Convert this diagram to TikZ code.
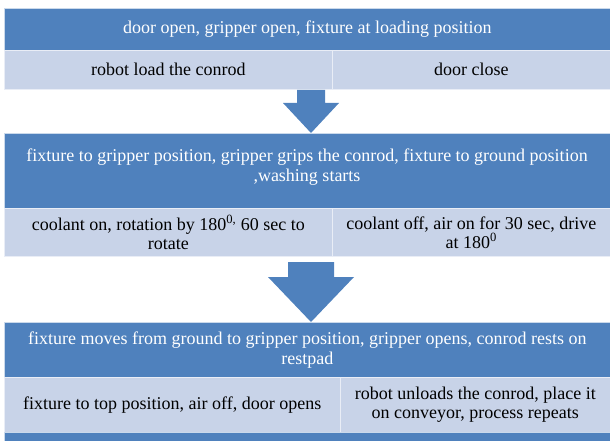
\documentclass[tikz,border=0pt]{standalone}
\usepackage{fontspec}
\setmainfont{Liberation Serif}
\usepackage{xcolor}
\definecolor{headblue}{RGB}{79,129,189}
\definecolor{rowblue}{RGB}{200,211,232}

\begin{document}
\begin{tikzpicture}[x=1pt, y=-1pt,
	head/.style={rectangle, fill=headblue, draw=white!70!headblue, line width=0.6pt, text=white, align=center, anchor=north west, inner sep=0pt, font=\fontsize{18}{20}\selectfont},
	cell/.style={rectangle, fill=rowblue, draw=white!60!rowblue, line width=0.6pt, text=black, align=center, anchor=north west, inner sep=0pt, font=\fontsize{18}{19}\selectfont},
	blockarrow/.style={fill=headblue}]
	\useasboundingbox (0,0) rectangle (610,441);

	% first step
	\node[head, minimum width=606pt, minimum height=42pt] (H1) at (4, 8) {door open, gripper open, fixture at loading position};
	\node[cell, minimum width=328pt, minimum height=39pt] (A1) at (4, 50) {robot load the conrod};
	\node[cell, minimum width=278pt, minimum height=39pt] (B1) at (332, 50) {door close};

	% arrow to second step
	\coordinate (T1) at (311, 133);
	\fill[blockarrow] (297, 90) -- (325, 90) -- (325, 103) -- (339, 103) -- (T1) -- (283, 103) -- (297, 103) -- cycle;

	% second step
	\node[head, minimum width=606pt, minimum height=75pt] (H2) at (4, 133) {};
	\node[text=white, font=\fontsize{18}{20}\selectfont, align=center] (H2text) at (307, 167) {fixture to gripper position, gripper grips the conrod, fixture to ground position\\,washing starts};
	\node[cell, minimum width=328pt, minimum height=48pt] (A2) at (4, 208) {coolant on, rotation by 180\textsuperscript{0,} 60 sec to\\rotate};
	\node[cell, minimum width=278pt, minimum height=48pt] (B2) at (332, 208) {coolant off, air on for 30 sec, drive\\at 180\textsuperscript{0}};

	% arrow to third step
	\coordinate (T2) at (311, 322);
	\fill[blockarrow] (288, 262) -- (334, 262) -- (334, 277) -- (354, 277) -- (T2) -- (268, 277) -- (288, 277) -- cycle;

	% third step
	\node[head, minimum width=606pt, minimum height=55pt] (H3) at (4, 322) {fixture moves from ground to gripper position, gripper opens, conrod rests on\\restpad};
	\node[cell, minimum width=336pt, minimum height=55pt] (A3) at (4, 377) {fixture to top position, air off, door opens};
	\node[cell, minimum width=270pt, minimum height=55pt] (B3) at (340, 377) {robot unloads the conrod, place it\\on conveyor, process repeats};
	\node[head, minimum width=606pt, minimum height=12pt] (H4) at (4, 432) {};
\end{tikzpicture}
\end{document}
